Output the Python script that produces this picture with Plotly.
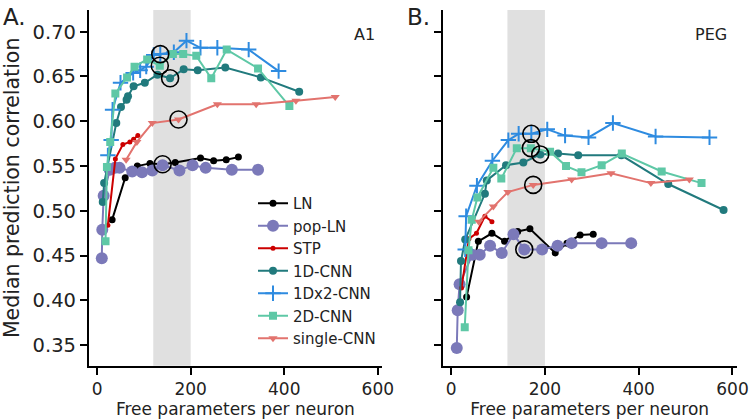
import plotly.graph_objects as go

# ---------------- data ----------------
x_tick_vals = [0, 200, 400, 600]
y_tick_vals = [0.35, 0.40, 0.45, 0.50, 0.55, 0.60, 0.65, 0.70]
y_tick_text = ["0.35", "0.40", "0.45", "0.50", "0.55", "0.60", "0.65", "0.70"]

series_names = ["LN", "pop-LN", "STP", "1D-CNN", "1Dx2-CNN", "2D-CNN", "single-CNN"]
panel_labels = ["A.", "B."]
area_labels = ["A1", "PEG"]
band_range = [120, 200]

# Panel A (A1)
a1_ln_x = [32, 60, 86, 113, 140, 167, 221, 249, 276, 302]
a1_ln_y = [0.490, 0.537, 0.550, 0.553, 0.552, 0.554, 0.559, 0.556, 0.557, 0.560]
a1_popln_x = [10, 11, 14, 27, 38, 48, 75, 96, 118, 140, 176, 204, 232, 288, 344]
a1_popln_y = [0.447, 0.479, 0.517, 0.546, 0.548, 0.548, 0.544, 0.543, 0.545, 0.551, 0.545, 0.551, 0.548, 0.546, 0.546]
a1_stp_x = [23, 39, 55, 70, 78, 87]
a1_stp_y = [0.484, 0.558, 0.574, 0.577, 0.580, 0.584]
a1_cnn1d_x = [12, 15, 41, 51, 63, 66, 78, 102, 129, 156, 185, 215, 274, 350, 432]
a1_cnn1d_y = [0.510, 0.531, 0.598, 0.616, 0.624, 0.628, 0.639, 0.643, 0.652, 0.648, 0.658, 0.657, 0.660, 0.649, 0.633]
a1_cnn1dx2_x = [23, 30, 33, 50, 77, 92, 105, 121, 135, 164, 191, 221, 257, 324, 388]
a1_cnn1dx2_y = [0.562, 0.579, 0.613, 0.643, 0.654, 0.657, 0.661, 0.674, 0.675, 0.677, 0.690, 0.682, 0.682, 0.680, 0.656]
a1_cnn2d_x = [18, 21, 28, 39, 64, 80, 107, 134, 162, 184, 212, 244, 277, 344, 411]
a1_cnn2d_y = [0.466, 0.549, 0.577, 0.631, 0.649, 0.661, 0.669, 0.662, 0.675, 0.675, 0.673, 0.648, 0.680, 0.659, 0.617]
a1_single_x = [62, 85, 118, 174, 257, 340, 425, 509]
a1_single_y = [0.557, 0.577, 0.598, 0.602, 0.619, 0.619, 0.623, 0.627]
a1_sel_x = [135, 134, 156, 174, 140]
a1_sel_y = [0.675, 0.662, 0.648, 0.602, 0.552]

# Panel B (PEG)
peg_ln_x = [33, 58, 87, 114, 142, 168, 222, 247, 275, 303]
peg_ln_y = [0.404, 0.466, 0.475, 0.466, 0.477, 0.480, 0.453, 0.464, 0.473, 0.474]
peg_popln_x = [12, 14, 18, 45, 61, 83, 108, 133, 156, 194, 227, 257, 321, 384]
peg_popln_y = [0.347, 0.389, 0.418, 0.451, 0.451, 0.461, 0.453, 0.474, 0.457, 0.457, 0.461, 0.464, 0.464, 0.464]
peg_stp_x = [22, 38, 54, 72, 87]
peg_stp_y = [0.414, 0.469, 0.475, 0.494, 0.488]
peg_cnn1d_x = [19, 21, 30, 72, 76, 117, 154, 190, 228, 271, 363, 463, 581]
peg_cnn1d_y = [0.398, 0.444, 0.468, 0.519, 0.534, 0.551, 0.554, 0.563, 0.564, 0.562, 0.562, 0.530, 0.501]
peg_cnn1dx2_x = [30, 32, 55, 88, 122, 144, 171, 205, 243, 293, 345, 436, 551]
peg_cnn1dx2_y = [0.457, 0.494, 0.528, 0.556, 0.579, 0.586, 0.586, 0.591, 0.584, 0.582, 0.598, 0.583, 0.582]
peg_cnn2d_x = [29, 37, 44, 56, 90, 107, 140, 170, 211, 245, 278, 321, 364, 449, 534]
peg_cnn2d_y = [0.370, 0.456, 0.490, 0.515, 0.548, 0.536, 0.570, 0.570, 0.566, 0.550, 0.543, 0.551, 0.564, 0.544, 0.531]
peg_single_x = [59, 90, 121, 175, 257, 341, 426, 508]
peg_single_y = [0.488, 0.505, 0.521, 0.529, 0.535, 0.542, 0.531, 0.535]
peg_sel_x = [171, 170, 190, 175, 156]
peg_sel_y = [0.586, 0.570, 0.563, 0.529, 0.457]

# ---------------- styles ----------------
FONT = "DejaVu Sans"
styles = {
    "LN": dict(color="#000000", symbol="circle", size=7),
    "pop-LN": dict(color="#7b79b9", symbol="circle", size=12),
    "STP": dict(color="#cc0000", symbol="circle", size=5),
    "1D-CNN": dict(color="#217a7d", symbol="circle", size=8),
    "1Dx2-CNN": dict(color="#2e8be0", symbol="cross-thin", size=11),
    "2D-CNN": dict(color="#5ec8a6", symbol="square", size=8),
    "single-CNN": dict(color="#e2736e", symbol="triangle-down", size=8),
}

panel_a = [(a1_ln_x, a1_ln_y), (a1_popln_x, a1_popln_y), (a1_stp_x, a1_stp_y),
           (a1_cnn1d_x, a1_cnn1d_y), (a1_cnn1dx2_x, a1_cnn1dx2_y),
           (a1_cnn2d_x, a1_cnn2d_y), (a1_single_x, a1_single_y)]
panel_b = [(peg_ln_x, peg_ln_y), (peg_popln_x, peg_popln_y), (peg_stp_x, peg_stp_y),
           (peg_cnn1d_x, peg_cnn1d_y), (peg_cnn1dx2_x, peg_cnn1dx2_y),
           (peg_cnn2d_x, peg_cnn2d_y), (peg_single_x, peg_single_y)]

fig = go.Figure()

for pi, (panel, xa, ya) in enumerate([(panel_a, "x", "y"), (panel_b, "x2", "y2")]):
    for name, (xs, ys) in zip(series_names, panel):
        st = styles[name]
        if st["symbol"] == "cross-thin":
            marker = dict(symbol=st["symbol"], size=st["size"],
                          line=dict(color=st["color"], width=2))
        else:
            marker = dict(symbol=st["symbol"], size=st["size"], color=st["color"],
                          line=dict(width=0))
        fig.add_trace(go.Scatter(
            x=xs, y=ys, mode="lines+markers", name=name,
            legendgroup=name, showlegend=(pi == 0),
            line=dict(color=st["color"], width=2),
            marker=marker, xaxis=xa, yaxis=ya,
        ))

for sx, sy, xa, ya in [(a1_sel_x, a1_sel_y, "x", "y"), (peg_sel_x, peg_sel_y, "x2", "y2")]:
    fig.add_trace(go.Scatter(
        x=sx, y=sy, mode="markers", showlegend=False, hoverinfo="skip",
        marker=dict(symbol="circle-open", size=17, color="black",
                    line=dict(color="black", width=1.6)),
        xaxis=xa, yaxis=ya,
    ))

W, H = 750, 420
def px(x):
    return x / W
def py(y):
    return 1 - y / H

x_range = [-18, 609]
y_range = [0.3272, 0.7242]
y_dom = [py(365.7), py(10)]

common_x = dict(range=x_range, tickvals=x_tick_vals, showgrid=False, zeroline=False,
                showline=True, linecolor="black", linewidth=1.6, ticks="outside",
                ticklen=7, tickwidth=1.6, tickcolor="black", automargin=False,
                tickfont=dict(family=FONT, size=17, color="#222"),
                title=dict(text="Free parameters per neuron", standoff=4,
                           font=dict(family=FONT, size=17, color="#222")))
common_y = dict(range=y_range, tickvals=y_tick_vals, ticktext=y_tick_text,
                showgrid=False, zeroline=False, showline=True, linecolor="black",
                linewidth=1.6, ticks="outside", ticklen=7, tickwidth=1.6,
                tickcolor="black", domain=y_dom, automargin=False,
                tickfont=dict(family=FONT, size=19.5, color="#222"))

fig.update_layout(
    width=W, height=H,
    margin=dict(l=0, r=0, t=0, b=0),
    paper_bgcolor="white", plot_bgcolor="white",
    font=dict(family=FONT, color="#222"),
    xaxis=dict(common_x, domain=[px(88.7), px(382)], anchor="y"),
    yaxis=dict(common_y, anchor="x",
               title=dict(text="Median prediction correlation", standoff=10,
                          font=dict(family=FONT, size=20.5, color="#222"))),
    xaxis2=dict(common_x, domain=[px(442.7), px(736.7)], anchor="y2"),
    yaxis2=dict(common_y, anchor="x2", showticklabels=False),
    legend=dict(x=px(253), y=py(187), xanchor="left", yanchor="top",
                bgcolor="rgba(0,0,0,0)", font=dict(family=FONT, size=15, color="#222"),
                tracegroupgap=0, itemwidth=30),
    showlegend=True,
)

for xa, ya in [("x", "y domain"), ("x2", "y2 domain")]:
    fig.add_shape(type="rect", xref=xa, yref=ya, x0=band_range[0], x1=band_range[1],
                  y0=0, y1=1, fillcolor="#e0e0e0", line=dict(width=0), layer="below")

fig.add_annotation(x=px(1), y=py(17), xref="paper", yref="paper", text=panel_labels[0],
                   showarrow=False, xanchor="left", yanchor="middle",
                   font=dict(family=FONT, size=23, color="#222"))
fig.add_annotation(x=px(405), y=py(17), xref="paper", yref="paper", text=panel_labels[1],
                   showarrow=False, xanchor="left", yanchor="middle",
                   font=dict(family=FONT, size=23, color="#222"))
fig.add_annotation(x=px(377), y=py(34), xref="paper", yref="paper", text=area_labels[0],
                   showarrow=False, xanchor="right", yanchor="middle",
                   font=dict(family=FONT, size=16, color="#222"))
fig.add_annotation(x=px(729), y=py(34), xref="paper", yref="paper", text=area_labels[1],
                   showarrow=False, xanchor="right", yanchor="middle",
                   font=dict(family=FONT, size=16, color="#222"))

fig.write_html("out.html", config={"displayModeBar": False},
               post_script="document.body.style.margin='0px';document.body.style.padding='0px';")
